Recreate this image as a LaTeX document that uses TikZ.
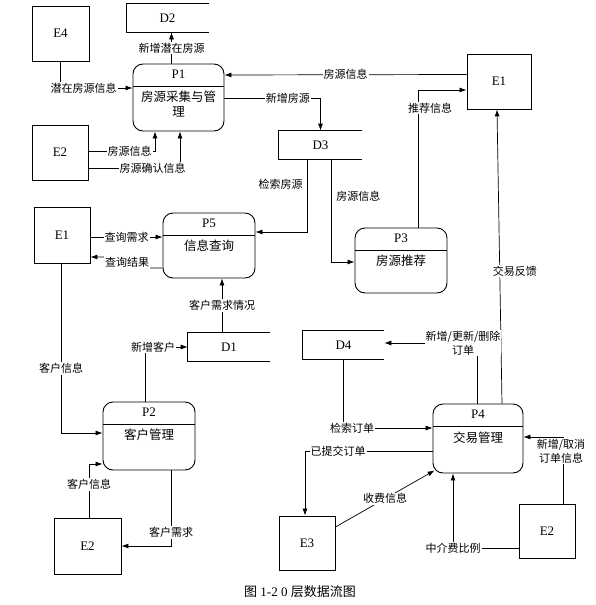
\documentclass[tikz,border=0pt]{standalone}
\usepackage{fontspec}
\setmainfont{Liberation Serif}
\newfontfamily\cjk{Noto Sans CJK SC}
\usetikzlibrary{positioning}
\usetikzlibrary{arrows.meta}
\tikzset{
        boxnode/.style={align=center,inner sep=0pt},
        % External entities
        node_entity/.style={boxnode, rectangle, draw, line width=0.9pt, minimum width=56pt, minimum height=55pt, font=\fontsize{13}{15}\selectfont},
        % Data stores (open on the right)
        node_store/.style={boxnode, rectangle, minimum width=82pt, minimum height=28pt, font=\fontsize{13}{15}\selectfont},
        % Processes
        node_process/.style={boxnode, rectangle, draw, line width=0.9pt, rounded corners=10pt, minimum width=91pt, minimum height=67pt,
            path picture={\draw[-, line width=0.8pt] ([yshift=-22pt]path picture bounding box.north west) -- ([yshift=-22pt]path picture bounding box.north east);}},
        node_id/.style={boxnode, font=\fontsize{13}{15}\selectfont},
        node_text/.style={boxnode, font=\cjk\fontsize{12.5}{15}\selectfont},
        % Flow labels
        node_flow/.style={boxnode, fill=white, inner sep=1pt, font=\cjk\fontsize{11}{14}\selectfont}
}
\begin{document}
\begin{tikzpicture}[
            ->, >={Latex[length=7pt,width=5pt]},
            x=1pt, y=-1pt, line width=0.7pt
        ]
            \useasboundingbox (0,0) rectangle (596,605);
            % External entities
            \node[node_entity, minimum width=57pt] (e4) at (60.5,33.5) {E4};
            \node[node_entity] (e2a) at (60,152.5) {E2};
            \node[node_entity, minimum width=64pt] (e1a) at (499,81.5) {E1};
            \node[node_entity, minimum height=56pt] (e1b) at (62,235) {E1};
            \node[node_entity, minimum width=67pt, minimum height=56pt] (e2b) at (87.5,546) {E2};
            \node[node_entity, minimum height=54pt] (e3) at (307,543) {E3};
            \node[node_entity, minimum height=54pt] (e2c) at (547,531) {E2};
            % Data stores
            \node[node_store] (d2) at (167.5,18) {D2};
            \node[node_store, minimum width=83pt] (d3) at (320.5,145) {D3};
            \node[node_store] (d1) at (229,347) {D1};
            \node[node_store, minimum width=81pt] (d4) at (343.5,345) {D4};
            \foreach \s in {d1,d2,d3,d4}
                \draw[-, line width=0.9pt] (\s.north east) -- (\s.north west) -- (\s.south west) -- (\s.south east);
            % Processes
            \node[node_process] (p1) at (178.5,97.5) {};
            \node[node_id, below=6pt of p1.north] {P1};
            \node[node_text, below=27pt of p1.north] {房源采集与管\\理};
            \node[node_process, minimum width=92pt, minimum height=65pt] (p5) at (209,245.5) {};
            \node[node_id, below=6pt of p5.north] {P5};
            \node[node_text, below=27pt of p5.north] {信息查询};
            \node[node_process, minimum width=92pt, minimum height=65pt] (p3) at (401,260.5) {};
            \node[node_id, below=6pt of p3.north] {P3};
            \node[node_text, below=27pt of p3.north] {房源推荐};
            \node[node_process, minimum width=92pt, minimum height=68pt] (p2) at (149,436) {};
            \node[node_id, below=6pt of p2.north] {P2};
            \node[node_text, below=27pt of p2.north] {客户管理};
            \node[node_process, minimum width=90pt, minimum height=69pt] (p4) at (478,438.5) {};
            \node[node_id, below=6pt of p4.north] {P4};
            \node[node_text, below=28pt of p4.north] {交易管理};

            % Flows round P1
            \draw (e4.south) |- node[node_flow, pos=0.66]{潜在房源信息} ([yshift=9.5pt]p1.west);
            \draw ([xshift=-7pt]p1.north) -- node[node_flow]{新增潜在房源} ([xshift=-7pt]p1.north |- d2.south);
            \draw ([yshift=1.5pt]e2a.east) -| node[node_flow, pos=0.31]{房源信息} ([xshift=-23.5pt]p1.south);
            \draw ([yshift=-15.5pt]e2a.east) -| node[node_flow, pos=0.35]{房源确认信息} ([xshift=1.5pt]p1.south);
            \draw ([yshift=7pt]e1a.west) -- node[node_flow]{房源信息} ([yshift=22.5pt]p1.east);
            \draw ([yshift=-0.5pt]p1.east) -| node[node_flow, pos=0.33]{新增房源} (d3.north);
            % Flows round D3, P3 and P5
            \draw ([xshift=-13.5pt]d3.south) |- node[node_flow, pos=0.17, left=3pt]{检索房源} ([yshift=13.5pt]p5.east);
            \draw ([xshift=10.5pt]d3.south) |- node[node_flow, pos=0.18, right=4pt]{房源信息} ([yshift=-1.5pt]p3.west);
            \draw ([xshift=17pt]p3.north) |- node[node_flow, pos=0.435, xshift=12pt]{推荐信息} ([yshift=-8.5pt]e1a.west);
            \draw ([yshift=-2pt]e1b.east) -- node[node_flow]{查询需求} ([yshift=8.5pt]p5.west);
            \draw ([yshift=-22.5pt]p5.west) -- ++(-13,0) -- node[node_flow]{查询结果} ([xshift=14pt,yshift=-22pt]e1b.east) -- ([yshift=-22pt]e1b.east);
            \draw ([xshift=-7pt]d1.north) -- node[node_flow]{客户需求情况} ([xshift=13pt]p5.south);
            % Flows round P2
            \draw ([xshift=-4pt]p2.north) |- node[node_flow, pos=0.5, xshift=8pt]{新增客户} (d1.west);
            \draw ([xshift=-1pt]e1b.south) |- node[node_flow, pos=0.31]{客户信息} ([yshift=3pt]p2.west);
            \draw ([xshift=1.5pt]e2b.north) |- node[node_flow, pos=0.31]{客户信息} ([yshift=-28pt]p2.west);
            \draw ([xshift=22pt]p2.south) |- node[node_flow, pos=0.41]{客户需求} (e2b.east);
            % Flows round P4
            \draw ([xshift=24pt]p4.north) -- node[node_flow, pos=0.45, xshift=15pt]{交易反馈} ([xshift=-2pt]e1a.south);
            \draw ([xshift=-1pt]p4.north) |- node[node_flow, pos=0.5, xshift=-14pt]{新增/更新/删除\\订单} ([yshift=2pt]d4.east);
            \draw (d4.south) |- node[node_flow, pos=0.5, xshift=8.5pt]{检索订单} ([yshift=10.5pt]p4.west);
            \draw ([yshift=-12.5pt]p4.west) -| node[node_flow, pos=0.37]{已提交订单} ([xshift=-2pt]e3.north);
            \draw ([yshift=16pt]e3.east) -- node[node_flow]{收费信息} ([xshift=2pt,yshift=3pt]p4.south west);
            \draw ([yshift=-17pt]e2c.west) -| node[node_flow, pos=0.5]{中介费比例} ([xshift=-25pt]p4.south);
            \draw ([xshift=16pt]e2c.north) |- node[node_flow, pos=0.395, xshift=-2pt]{新增/取消\\订单信息} ([yshift=1.5pt]p4.east);

            % Caption
            \node[boxnode, font=\fontsize{13}{15}\selectfont] (caption) at (300,592) {{\cjk 图} 1-2 0 {\cjk 层数据流图}};
        \end{tikzpicture}
\end{document}
